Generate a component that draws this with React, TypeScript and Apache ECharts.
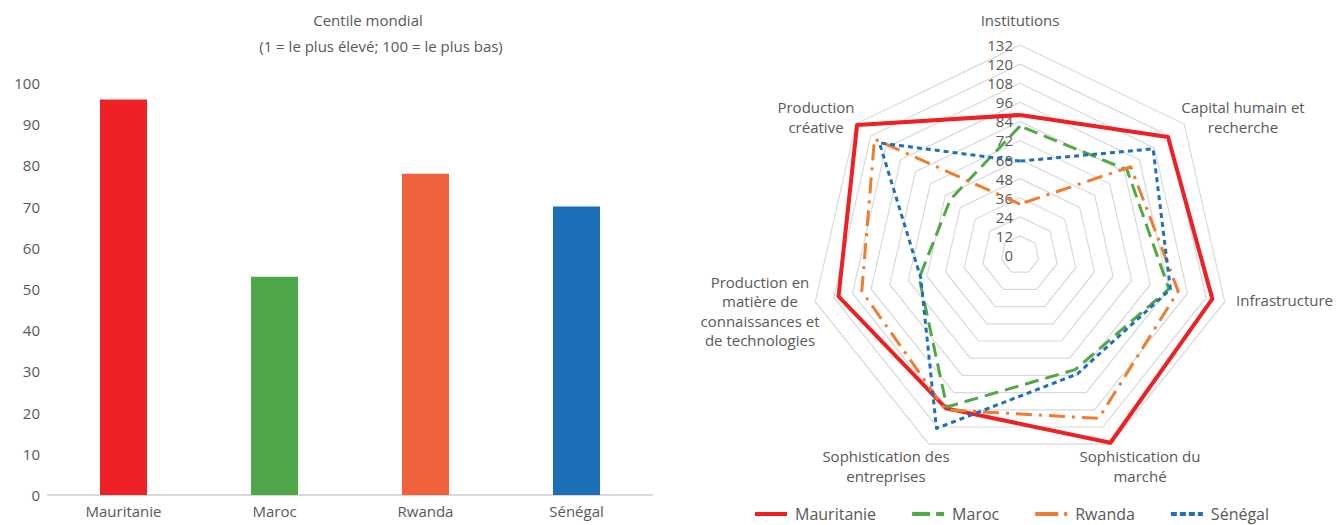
import React, { useEffect, useRef } from 'react';
import * as echarts from 'echarts';

// ---- Bar chart data (Centile mondial) ----
const barCategories = ['Mauritanie', 'Maroc', 'Rwanda', 'Sénégal'];
const barValues = [96, 53, 78, 70];
const barColors = ['#EE2226', '#4EA748', '#F0623C', '#1C6FB7'];
const barTitle = 'Centile mondial';
const barSubtitle = '(1 = le plus élevé; 100 = le plus bas)';

// ---- Radar data (rangs par pilier), listed clockwise from the top ----
const pillars = [
  'Institutions',
  'Capital humain et\nrecherche',
  'Infrastructure',
  'Sophistication du\nmarché',
  'Sophistication des\nentreprises',
  'Production en\nmatière de\nconnaissances et\nde technologies',
  'Production\ncréative',
];
const mauritanieRanks = [88, 119, 124, 131, 107, 117, 131];
const marocRanks = [81, 86, 96, 80, 106, 65, 56];
const rwandaRanks = [32, 89, 102, 114, 108, 102, 117];
const senegalRanks = [59, 107, 97, 83, 121, 64, 113];
const radarMin = 0;
const radarMax = 132;
const radarSplits = 11;

const seriesNames = ['Mauritanie', 'Maroc', 'Rwanda', 'Sénégal'];

const FONT = '"Open Sans", "Noto Sans", sans-serif';
const TXT = '#595959';

// ECharts lays radar indicators counter-clockwise; reorder to get clockwise
const order = [0, 6, 5, 4, 3, 2, 1];
const reorder = (arr: any[]) => order.map((i) => arr[i]);

// label placement for pillar names (centre of text block)
const pillarLabelPos: { x: number; y: number; align: string }[] = [
  { x: 1020, y: 20, align: 'center' },
  { x: 1243, y: 117, align: 'center' },
  { x: 1236, y: 300, align: 'left' },
  { x: 1140, y: 466, align: 'center' },
  { x: 886, y: 466, align: 'center' },
  { x: 760, y: 311, align: 'center' },
  { x: 816, y: 117, align: 'center' },
];

export default function App() {
  const ref = useRef<HTMLDivElement>(null);

  useEffect(() => {
    if (!ref.current) return;
    const chart = echarts.init(ref.current, undefined, { renderer: 'svg' });

    const indicators = reorder(pillars).map((name: string, i: number) => ({
      name,
      min: radarMin,
      max: radarMax,
      ...(i === 0
        ? {
            axisLabel: {
              show: true,
              color: TXT,
              fontSize: 15,
              fontFamily: FONT,
              margin: 7,
              showMinLabel: true,
              showMaxLabel: true,
            },
          }
        : {}),
    }));

    const textStyle = (text: string, x: number, y: number, align: string, size = 15) => ({
      type: 'text',
      x,
      y,
      silent: true,
      style: {
        text,
        fill: TXT,
        fontSize: size,
        fontFamily: FONT,
        align,
        verticalAlign: 'middle',
        lineHeight: 19.5,
      },
    });

    const option: any = {
      animation: false,
      graphic: [
        textStyle(barTitle, 368, 20, 'center'),
        textStyle(barSubtitle, 381, 46, 'center'),
        ...pillars.map((p, i) =>
          textStyle(p, pillarLabelPos[i].x, pillarLabelPos[i].y, pillarLabelPos[i].align)
        ),
      ],
      grid: { left: 48, top: 83, width: 604, height: 412 },
      xAxis: {
        type: 'category',
        data: barCategories,
        axisLine: { lineStyle: { color: '#D9D9D9', width: 2 } },
        axisTick: { show: false },
        axisLabel: { color: TXT, fontSize: 15, fontFamily: FONT, margin: 8 },
      },
      yAxis: {
        type: 'value',
        min: 0,
        max: 100,
        interval: 10,
        axisLine: { show: false },
        axisTick: { show: false },
        splitLine: { show: false },
        axisLabel: { color: TXT, fontSize: 15, fontFamily: FONT, margin: 8 },
      },
      radar: {
        center: [1020, 255],
        radius: 210,
        startAngle: 90,
        splitNumber: radarSplits,
        shape: 'polygon',
        indicator: indicators,
        axisName: { show: false },
        axisLine: { show: false },
        axisTick: { show: false },
        axisLabel: { show: false },
        splitLine: { lineStyle: { color: '#D9D9D9', width: 1.2 } },
        splitArea: { show: false },
      },
      legend: {
        left: 755,
        top: 504,
        itemWidth: 32,
        itemHeight: 4,
        itemGap: 36,
        padding: 0,
        selectedMode: false,
        textStyle: { color: TXT, fontSize: 16, fontFamily: FONT, lineHeight: 20, padding: [0, 0, 0, 3] },
        data: [
          { name: seriesNames[0], icon: 'path://M0,0H32V4H0Z' },
          { name: seriesNames[1], icon: 'path://M0,0H18V4H0Z M24,0H32V4H24Z' },
          { name: seriesNames[2], icon: 'path://M0,0H23V4H0Z M29,0H32V4H29Z' },
          {
            name: seriesNames[3],
            icon: 'path://M0,0H6V4H0Z M9,0H15V4H9Z M18,0H24V4H18Z M27,0H32V4H27Z',
          },
        ],
      },
      series: [
        {
          type: 'bar',
          name: 'Centile',
          barWidth: 47,
          data: barValues.map((v, i) => ({ value: v, itemStyle: { color: barColors[i] } })),
        },
        {
          type: 'radar',
          symbol: 'none',
          data: [
            {
              name: seriesNames[0],
              value: reorder(mauritanieRanks),
              lineStyle: { color: '#EE2024', width: 4 },
              itemStyle: { color: '#EE2024' },
            },
            {
              name: seriesNames[1],
              value: reorder(marocRanks),
              lineStyle: { color: '#52A845', width: 3, type: [14, 7] },
              itemStyle: { color: '#52A845' },
            },
            {
              name: seriesNames[2],
              value: reorder(rwandaRanks),
              lineStyle: { color: '#ED7D31', width: 3, type: [16, 7, 3, 7] },
              itemStyle: { color: '#ED7D31' },
            },
            {
              name: seriesNames[3],
              value: reorder(senegalRanks),
              lineStyle: { color: '#1F6FB9', width: 3, type: [5, 4] },
              itemStyle: { color: '#1F6FB9' },
            },
          ],
        },
      ],
    };

    chart.setOption(option);
    return () => chart.dispose();
  }, []);

  return (
    <div
      ref={ref}
      style={{ position: 'absolute', left: 0, top: 0, width: 1337, height: 525 }}
    />
  );
}
